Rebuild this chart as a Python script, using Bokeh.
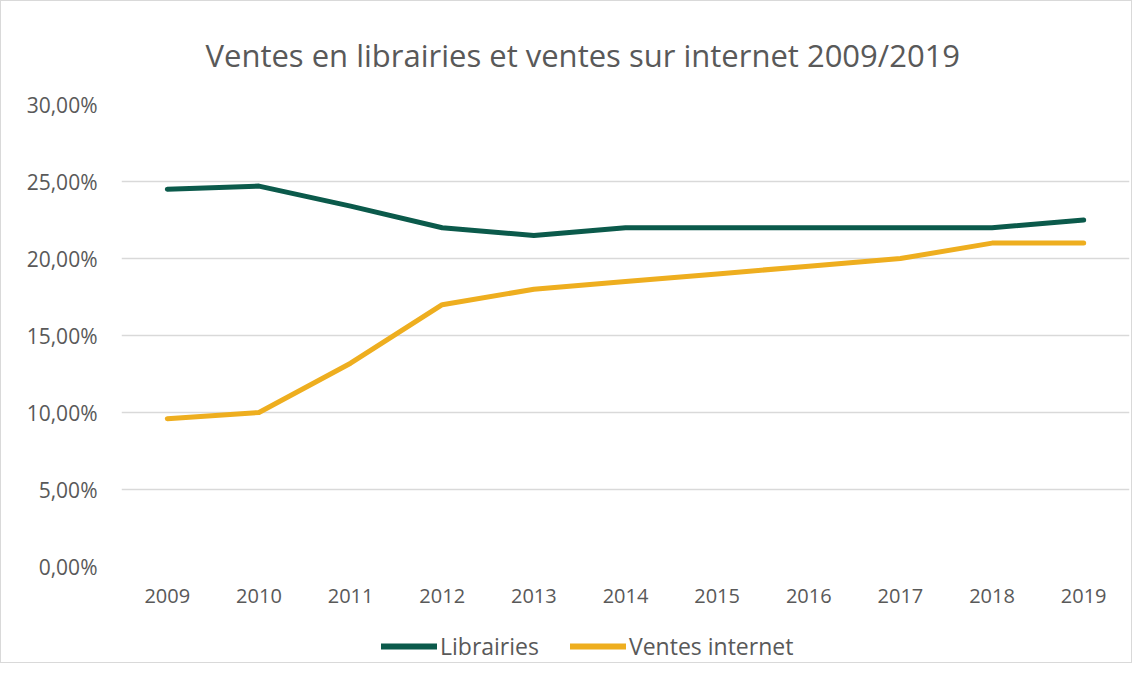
from bokeh.plotting import figure
from bokeh.models import Range1d, FactorRange, FixedTicker, Legend, LegendItem
from bokeh.layouts import column
from bokeh.embed import file_html
from bokeh.resources import INLINE

years = ["2009", "2010", "2011", "2012", "2013", "2014", "2015", "2016", "2017", "2018", "2019"]
librairies = [24.5, 24.7, 23.4, 22.0, 21.5, 22.0, 22.0, 22.0, 22.0, 22.0, 22.5]
ventes_internet = [9.6, 10.0, 13.2, 17.0, 18.0, 18.5, 19.0, 19.5, 20.0, 21.0, 21.0]
y_ticks = [0, 5, 10, 15, 20, 25, 30]
y_tick_labels = ["0,00%", "5,00%", "10,00%", "15,00%", "20,00%", "25,00%", "30,00%"]
series_names = ["Librairies", "Ventes internet"]
series_colors = ["#0B5A4B", "#EEAE1F"]

FONT = "Open Sans"
TXT = "#595959"

p = figure(width=1130, height=625, output_backend="svg", toolbar_location=None,
           x_range=FactorRange(*years, range_padding=0), y_range=Range1d(0, 30),
           min_border_left=120, min_border_right=2, min_border_top=103, min_border_bottom=60,
           title="Ventes en librairies et ventes sur internet 2009/2019")
p.outline_line_color = None
p.background_fill_color = "white"
p.border_fill_color = "white"

p.title.text_font = FONT
p.title.text_font_size = "31px"
p.title.text_font_style = "normal"
p.title.text_color = TXT
p.title.align = "left"
p.title.offset = 84
p.title.standoff = 57

r1 = p.line(years, librairies, line_color=series_colors[0], line_width=5, line_cap="round", line_join="round")
r2 = p.line(years, ventes_internet, line_color=series_colors[1], line_width=5, line_cap="round", line_join="round")

p.yaxis.ticker = FixedTicker(ticks=y_ticks)
p.yaxis.major_label_overrides = {t: l for t, l in zip(y_ticks, y_tick_labels)}
for ax in (p.xaxis[0], p.yaxis[0]):
    ax.axis_line_color = None
    ax.major_tick_line_color = None
    ax.minor_tick_line_color = None
    ax.major_label_text_font = FONT
    ax.major_label_text_font_size = "20px"
    ax.major_label_text_color = TXT
p.yaxis.major_label_text_font_size = "21px"
p.yaxis.major_label_standoff = 18
p.xaxis.major_label_standoff = 16

p.xgrid.grid_line_color = None
p.ygrid.grid_line_color = "#d9d9d9"
p.ygrid.grid_line_width = 1.5

# legend strip below the chart (frame aligned with the chart's frame by the column)
lg = figure(width=1130, height=36, output_backend="svg", toolbar_location=None,
            x_range=Range1d(0, 1), y_range=Range1d(0, 1),
            x_axis_location=None, y_axis_location=None,
            min_border_left=120, min_border_right=2, min_border_top=0, min_border_bottom=0)
lg.outline_line_color = None
lg.grid.grid_line_color = None
lg.background_fill_color = "white"
lg.border_fill_color = "white"
dummies = [lg.line(x=[-10, -9], y=[-10, -9], line_color=c, line_width=6, line_cap="round")
           for c in series_colors]

legend = Legend(items=[LegendItem(label=n, renderers=[d]) for n, d in zip(series_names, dummies)],
                orientation="horizontal", location=(260, 0),
                border_line_color=None, background_fill_alpha=0,
                label_text_font=FONT, label_text_font_size="23px", label_text_color=TXT,
                glyph_width=56, glyph_height=24, spacing=31, label_standoff=3,
                padding=0, margin=0)
lg.add_layout(legend)

layout = column(p, lg, spacing=0)
layout.styles = {"border": "1px solid #d9d9d9"}

open("out.html", "w").write(file_html(layout, INLINE))
